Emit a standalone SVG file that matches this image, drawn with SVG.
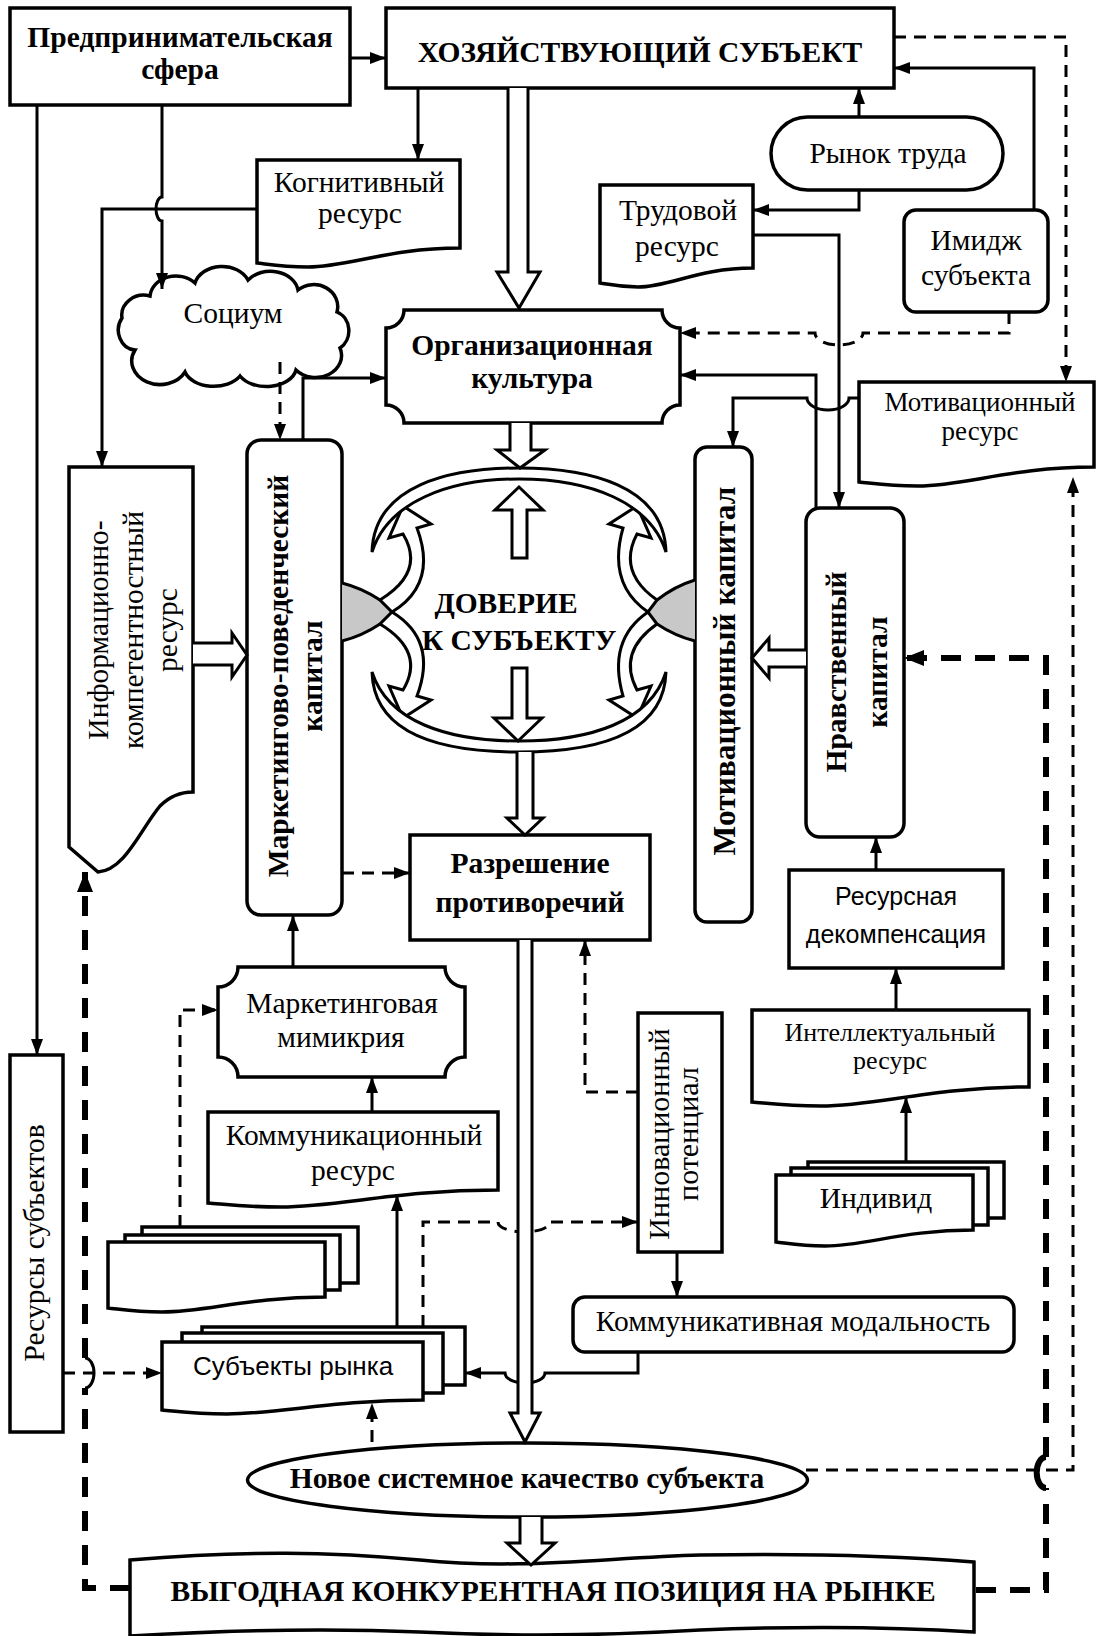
<svg xmlns="http://www.w3.org/2000/svg" width="1096" height="1636" viewBox="0 0 1096 1636">
<style>
.bx{fill:#fff;stroke:#000;stroke-width:3.5}
.ln{fill:none;stroke:#000;stroke-width:3}
.dl{fill:none;stroke:#000;stroke-width:3;stroke-dasharray:12 8}
.tk{fill:none;stroke:#000;stroke-width:6;stroke-dasharray:20 14}
.ha{fill:#fff;stroke:#000;stroke-width:3;stroke-linejoin:miter}
.t{font-family:"Liberation Serif","Times New Roman",serif;font-size:29.5px;fill:#000;text-anchor:middle}
.b{font-weight:bold}
.s{font-family:"Liberation Sans",Arial,sans-serif;font-size:25px;fill:#000;text-anchor:middle}
</style>
<defs>
<marker id="a" viewBox="0 0 16 12" refX="16" refY="6" markerWidth="16" markerHeight="12" markerUnits="userSpaceOnUse" orient="auto"><path d="M0,0 L16,6 L0,12 Z" fill="#000"/></marker>
<marker id="ab" viewBox="0 0 20 16" refX="20" refY="8" markerWidth="20" markerHeight="16" markerUnits="userSpaceOnUse" orient="auto"><path d="M0,0 L20,8 L0,16 Z" fill="#000"/></marker>
</defs>
<rect width="1096" height="1636" fill="#fff"/>

<g id="n-predpr"><rect class="bx" x="10" y="8" width="340" height="97"/><text class="t b" x="180" y="47">Предпринимательская</text><text class="t b" x="180" y="79">сфера</text></g>
<g id="n-hoz"><rect class="bx" x="386" y="8" width="508" height="80"/><text class="t b" x="640" y="62">ХОЗЯЙСТВУЮЩИЙ СУБЪЕКТ</text></g>
<g id="n-kogn"><path class="bx" d="M257,160 H460 V248 C389,248 348,267 308,267 C281,267 267,264 257,263 Z"/><text class="t" x="359" y="192">Когнитивный</text><text class="t" x="360" y="223">ресурс</text></g>
<g id="n-rynok"><rect class="bx" x="771" y="117" width="232" height="73" rx="36.5"/><text class="t" x="888" y="163">Рынок труда</text></g>
<g id="n-trud"><path class="bx" d="M600,185 H753 V268 C699,268 669,287 638,287 C618,287 608,284 600,283 Z"/><text class="t" x="678" y="220">Трудовой</text><text class="t" x="677" y="256">ресурс</text></g>
<g id="n-imidzh"><rect class="bx" x="904" y="210" width="144" height="102" rx="12"/><text class="t" x="976" y="250">Имидж</text><text class="t" x="976" y="285">субъекта</text></g>
<g id="n-socium"><path class="bx" d="M135,350 A18 20 0 0 1 122,318 A22 20 0 0 1 150,296 A26 22 0 0 1 195,283 A28 22 0 0 1 248,280 A28 22 0 0 1 298,290 A24 22 0 0 1 337,312 A18 20 0 0 1 340,348 A26 22 0 0 1 296,370 A30 20 0 0 1 240,376 A30 20 0 0 1 185,372 A24 20 0 0 1 135,350 Z"/><text class="t" x="233" y="323">Социум</text></g>
<g id="n-org"><path class="bx" d="M404,310 H662 A18 18 0 0 0 680,328 V405 A18 18 0 0 0 662,423 H404 A18 18 0 0 0 386,405 V328 A18 18 0 0 0 404,310 Z"/><text class="t b" x="532" y="355">Организационная</text><text class="t b" x="532" y="388">культура</text></g>
<g id="n-motres"><path class="bx" d="M859,382 H1094 V467 C1012,467 965,486 918,486 C887,486 871,483 859,482 Z"/><text class="t" x="980" y="411" style="font-size:27px">Мотивационный</text><text class="t" x="980" y="440" style="font-size:27px">ресурс</text></g>
<g id="n-info"><path class="bx" d="M69,467 H193 V792 C180,792 170,796 160,806 C140,830 125,870 98,872 L69,847 Z"/><g transform="translate(108,630) rotate(-90)"><text class="t" x="0" y="0">Информационно-</text></g><g transform="translate(143,630) rotate(-90)"><text class="t" x="0" y="0">компетентностный</text></g><g transform="translate(177,630) rotate(-90)"><text class="t" x="0" y="0">ресурс</text></g></g>
<g id="n-markcap"><rect class="bx" x="247" y="440" width="95" height="475" rx="14"/><g transform="translate(288,676) rotate(-90)"><text class="t b" x="0" y="0">Маркетингово-поведенческий</text></g><g transform="translate(322,676) rotate(-90)"><text class="t b" x="0" y="0">капитал</text></g></g>
<g id="n-motcap"><rect class="bx" x="695" y="447" width="57" height="475" rx="12"/><g transform="translate(735,671) rotate(-90)"><text class="t b" x="0" y="0" style="font-size:31.5px">Мотивационный капитал</text></g></g>
<g id="n-nravcap"><rect class="bx" x="806" y="508" width="98" height="329" rx="14"/><g transform="translate(846,672) rotate(-90)"><text class="t b" x="0" y="0">Нравственный</text></g><g transform="translate(887,672) rotate(-90)"><text class="t b" x="0" y="0">капитал</text></g></g>

<g id="n-doverie">
<path d="M342,583 Q362,588 380,600 L392,612 L380,624 Q362,636 342,641 Z" fill="#c8c8c8"/>
<path class="ln" d="M342,583 Q362,588 380,600 M342,641 Q362,636 380,624"/>
<path d="M695,580 Q675,586 657,600 L648,612 L657,624 Q675,636 695,641 Z" fill="#c8c8c8"/>
<path class="ln" d="M695,580 Q675,586 657,600 M695,641 Q675,636 657,624"/>
<path class="ha" d="M380,600 Q426,572 403,534 L389,538 L403,506 L431,524 L417,528 Q438,584 392,612 Z"/>
<path class="ha" d="M380,624 Q426,652 403,690 L389,686 L403,718 L431,700 L417,696 Q438,640 392,612 Z"/>
<path class="ha" d="M657,600 Q617,572 637,534 L651,538 L637,506 L609,524 L623,528 Q607,584 648,612 Z"/>
<path class="ha" d="M657,624 Q617,652 637,690 L651,686 L637,718 L609,700 L623,696 Q607,640 648,612 Z"/>
<path class="ha" d="M372,552 C374,485 450,468 519,468 C588,468 664,485 666,552 C650,502 590,479 519,479 C448,479 388,502 372,552 Z"/>
<path class="ha" d="M372,672 C374,739 450,752 519,752 C588,752 664,739 666,672 C650,722 590,741 519,741 C448,741 388,722 372,672 Z"/>
<path class="ha" d="M512,558 V510 H495 L519,487 L543,510 H527 V558 Z"/>
<path class="ha" d="M512,668 V718 H494 L518,741 L542,718 H527 V668 Z"/>
<text class="t b" x="506" y="613">ДОВЕРИЕ</text>
<text class="t b" x="519" y="650">К СУБЪЕКТУ</text>
</g>

<g id="n-razr"><rect class="bx" x="410" y="835" width="240" height="105"/><text class="t b" x="530" y="873">Разрешение</text><text class="t b" x="530" y="912">противоречий</text></g>
<g id="n-mimik"><path class="bx" d="M238,967 H445 A20 20 0 0 0 465,987 V1057 A20 20 0 0 0 445,1077 H238 A20 20 0 0 0 218,1057 V987 A20 20 0 0 0 238,967 Z"/><text class="t" x="342" y="1013">Маркетинговая</text><text class="t" x="341" y="1047">мимикрия</text></g>
<g id="n-resdek"><rect class="bx" x="789" y="870" width="214" height="98"/><text class="s" x="896" y="905">Ресурсная</text><text class="s" x="896" y="943">декомпенсация</text></g>
<g id="n-intel"><path class="bx" d="M752,1010 H1029 V1087 C932,1087 877,1106 821,1106 C785,1106 766,1103 752,1102 Z"/><text class="t" x="890" y="1041" style="font-size:26px">Интеллектуальный</text><text class="t" x="890" y="1069" style="font-size:26px">ресурс</text></g>
<g id="n-innov"><rect class="bx" x="638" y="1013" width="84" height="239"/><g transform="translate(669,1134) rotate(-90)"><text class="t" x="0" y="0" style="font-size:30px">Инновационный</text></g><g transform="translate(698,1134) rotate(-90)"><text class="t" x="0" y="0" style="font-size:30px">потенциал</text></g></g>
<g id="n-komres"><path class="bx" d="M208,1112 H498 V1190 C397,1190 339,1207 281,1207 C243,1207 223,1204 208,1203 Z"/><text class="t" x="354" y="1145">Коммуникационный</text><text class="t" x="353" y="1180">ресурс</text></g>
<g id="n-individ"><rect class="bx" x="808" y="1162" width="196" height="56"/><rect class="bx" x="791" y="1168" width="197" height="57"/><path class="bx" d="M776,1175 H973 V1230 C904,1230 865,1246 825,1246 C800,1246 786,1243 776,1242 Z"/><text class="t" x="876" y="1208">Индивид</text></g>
<g id="n-stack"><rect class="bx" x="142" y="1227" width="216" height="56"/><rect class="bx" x="125" y="1235" width="215" height="55"/><path class="bx" d="M108,1242 H325 V1297 C249,1297 206,1312 162,1312 C134,1312 119,1309 108,1308 Z"/></g>
<g id="n-ressub"><rect class="bx" x="10" y="1055" width="53" height="377"/><g transform="translate(44,1243) rotate(-90)"><text class="t" x="0" y="0">Ресурсы субъектов</text></g></g>
<g id="n-komod"><rect class="bx" x="573" y="1297" width="441" height="55" rx="12"/><text class="t" x="793" y="1331">Коммуникативная модальность</text></g>
<g id="n-subr"><rect class="bx" x="202" y="1327" width="263" height="58"/><rect class="bx" x="182" y="1333" width="261" height="60"/><path class="bx" d="M162,1342 H423 V1400 C332,1400 279,1414 227,1414 C193,1414 175,1411 162,1410 Z"/><text class="s" x="293" y="1375" style="font-size:26px">Субъекты рынка</text></g>
<g id="n-novoe"><ellipse class="bx" cx="527.5" cy="1480" rx="280" ry="37"/><text class="t b" x="527" y="1488">Новое системное качество субъекта</text></g>
<g id="n-vygod"><path class="bx" d="M130,1560 C250,1550 330,1552 420,1560 C520,1570 600,1558 700,1555 C820,1553 900,1556 974,1562 V1632 C880,1626 800,1626 700,1630 C600,1636 500,1636 420,1632 C330,1628 230,1630 130,1636 Z"/><text class="t b" x="553" y="1601">ВЫГОДНАЯ КОНКУРЕНТНАЯ ПОЗИЦИЯ НА РЫНКЕ</text></g>

<g id="connectors">
<path class="ln" d="M350,58 H386" marker-end="url(#a)"/>
<path class="ln" d="M37,105 V1055" marker-end="url(#a)"/>
<path class="ln" d="M162,105 V197 A6 12 0 0 0 162,221 V289" marker-end="url(#a)"/>
<path class="ln" d="M257,209 H102 V467" marker-end="url(#a)"/>
<path class="ln" d="M418,88 V160" marker-end="url(#a)"/>
<path class="ln" d="M859,117 V88" marker-end="url(#a)"/>
<path class="ln" d="M859,190 V210 H753" marker-end="url(#a)"/>
<path class="ln" d="M1034,210 V68 H894" marker-end="url(#a)"/>
<path class="ln" d="M753,235 H839 V508" marker-end="url(#a)"/>
<path class="ln" d="M816,508 V375 H680" marker-end="url(#a)"/>
<path class="ln" d="M859,398 H849 A21 12 0 0 1 807,398 H733 V447" marker-end="url(#a)"/>
<path class="ln" d="M303,440 V378 H386" marker-end="url(#a)"/>
<path class="ln" d="M293,967 V915" marker-end="url(#a)"/>
<path class="ln" d="M372,1112 V1077" marker-end="url(#a)"/>
<path class="ln" d="M397,1327 V1195" marker-end="url(#a)"/>
<path class="ln" d="M677,1252 V1297" marker-end="url(#a)"/>
<path class="ln" d="M638,1352 V1373 H545 A20 10 0 0 1 505,1373 H465" marker-end="url(#a)"/>
<path class="ln" d="M876,870 V837" marker-end="url(#a)"/>
<path class="ln" d="M896,1010 V968" marker-end="url(#a)"/>
<path class="ln" d="M906,1162 V1097" marker-end="url(#a)"/>

<path class="dl" d="M280,362 V440" marker-end="url(#a)"/>
<path class="dl" d="M1009,312 V333 H863 A24 12 0 0 1 815,333 H680" marker-end="url(#a)"/>
<path class="dl" d="M894,37 H1066 V382" marker-end="url(#a)"/>
<path class="dl" d="M342,873 H410" marker-end="url(#a)"/>
<path class="dl" d="M638,1092 H585 V940" marker-end="url(#a)"/>
<path class="dl" d="M180,1227 V1010 H218" marker-end="url(#a)"/>
<path class="dl" d="M423,1327 V1222 H498 A26 10 0 0 0 550,1222 H638" marker-end="url(#a)"/>
<path class="dl" d="M63,1373 H162" marker-end="url(#a)"/>
<path class="dl" d="M806,1470 H1073 V477" marker-end="url(#a)"/>
<path class="dl" d="M372,1442 V1403" marker-end="url(#a)"/>

<path class="tk" d="M130,1588 H85 V1388"/>
<path class="ln" d="M85,1388 A9 15 0 0 0 85,1358"/>
<path class="tk" d="M85,1358 V872" marker-end="url(#ab)"/>
<path class="tk" d="M976,1590 H1046 V1488"/>
<path d="M1046,1488 A9 15 0 0 1 1046,1457" fill="none" stroke="#000" stroke-width="6"/>
<path class="tk" d="M1046,1457 V658 H904" marker-end="url(#ab)"/>

<path class="ha" d="M508,88 V272 H497 L519,308 L540,272 H528 V88"/>
<path class="ha" d="M510,423 V450 H497 L520,468 L545,450 H531 V423"/>
<path class="ha" d="M517,752 V818 H507 L525,835 L543,818 H533 V752"/>
<path class="ha" d="M518,940 V1413 H510 L525,1442 L540,1413 H532 V940"/>
<path class="ha" d="M520,1517 V1543 H507 L531,1565 L555,1543 H542 V1517"/>
<path class="ha" d="M193,643 H232 V633 L247,655 L232,677 V665 H193"/>
<path class="ha" d="M806,650 H769 V638 L752,658 L769,678 V667 H806"/>
</g>
</svg>
